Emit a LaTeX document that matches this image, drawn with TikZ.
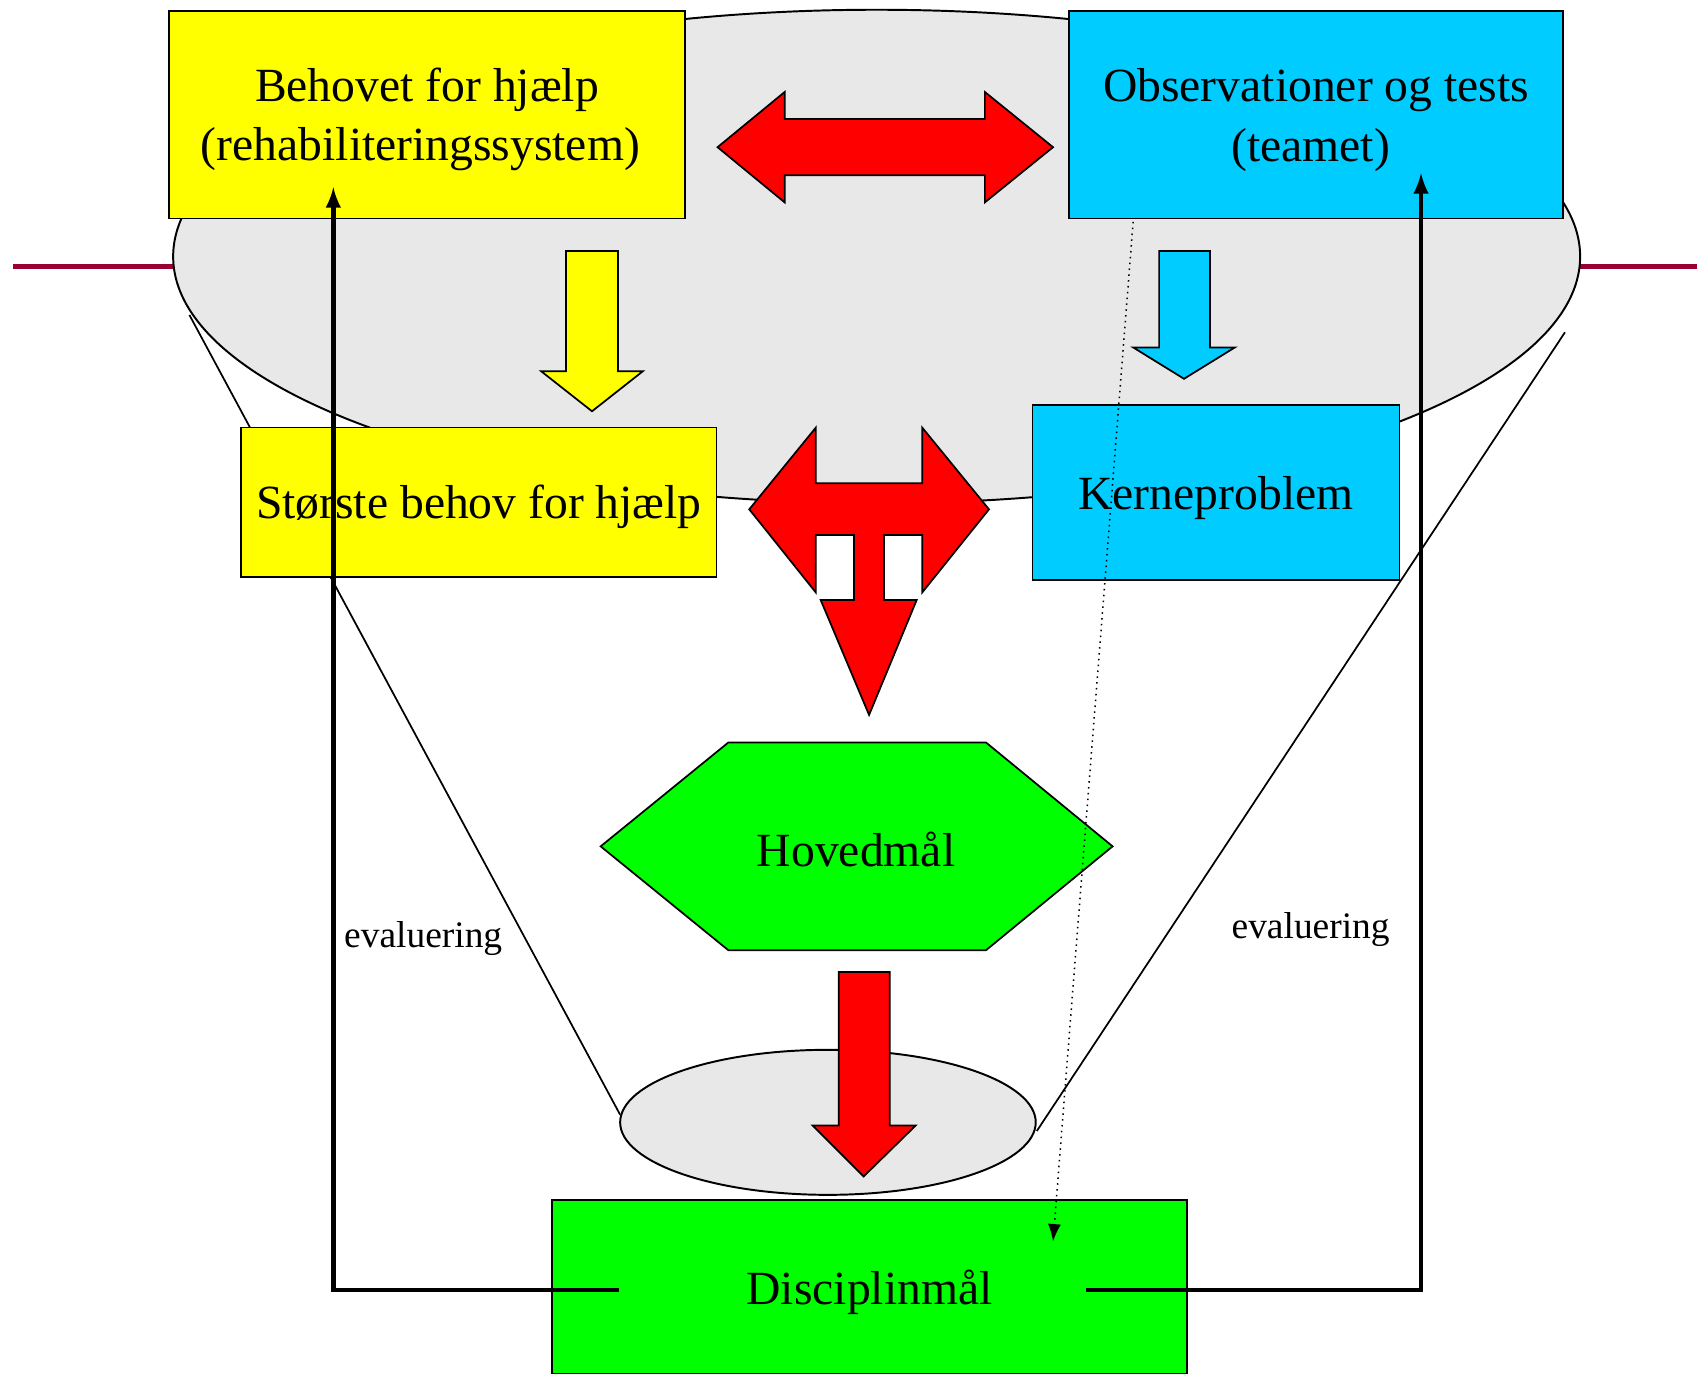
\documentclass[tikz,border=0pt]{standalone}
\usepackage{fontspec}
\setmainfont{Liberation Serif}
\usetikzlibrary{arrows.meta}
\definecolor{gul}{RGB}{255,255,0}
\definecolor{blaa}{RGB}{0,204,255}
\definecolor{groen}{RGB}{0,255,0}
\definecolor{roed}{RGB}{255,0,0}
\definecolor{graa}{RGB}{232,232,232}
\definecolor{vinroed}{RGB}{153,0,51}
\newcommand\loeft[1]{\rule{0pt}{#1}}

\begin{document}
\begin{tikzpicture}[
x=0.5pt, y=-0.5pt,
box/.style={
  draw,
  line width=0.8pt,
  inner sep=0pt,
  align=center,
  font=\fontsize{22}{27.5}\selectfont
  },
blokpil/.style={
  draw,
  line width=0.8pt,
  line join=miter
  },
skal/.style={
  draw,
  line width=0.9pt,
  fill=graa
  },
tragt/.style={
  line width=0.8pt
  },
tilbage/.style={
  line width=2.2pt
  },
prik/.style={
  line width=0.7pt,
  dotted
  },
eval/.style={
  font=\fontsize{17.3}{20}\selectfont
  },
>=latex
]
\useasboundingbox (0,0) rectangle (1568,1270);

% baggrund
\draw[vinroed, line width=2.2pt] (12,246) -- (1568,246);
\draw[skal] (810,237) ellipse [x radius=325pt, y radius=114pt];
\draw[tragt] (175,291) -- (573,1030);
\draw[tragt] (1446,307) -- (958,1045);
\draw[skal] (765,1037) ellipse [x radius=96pt, y radius=33.5pt];

% kasser
\node[box, fill=gul, minimum width=238.5pt, minimum height=96pt] (behov) at (394.5,106)
  {\loeft{20pt}Behovet for hjælp\\\hspace*{-6pt}(rehabiliteringssystem)};
\node[box, fill=blaa, minimum width=228pt, minimum height=96pt] (obs) at (1216,106)
  {\loeft{20pt}Observationer og tests\\\hspace*{-5pt}(teamet)};
\node[box, fill=gul, minimum width=219.5pt, minimum height=69pt] (stoerst) at (442.5,464)
  {\loeft{20pt}Største behov for hjælp};
\node[box, fill=blaa, minimum width=169.5pt, minimum height=81pt] (kerne) at (1123.5,455)
  {\loeft{20.5pt}Kerneproblem};

% blokpile
\filldraw[blokpil, fill=roed] (663,136) -- (725,85) -- (725,110) -- (910,110) -- (910,85)
  -- (973,136) -- (910,187) -- (910,162) -- (725,162) -- (725,187) -- cycle;
\filldraw[blokpil, fill=gul] (523,232) -- (571,232) -- (571,343) -- (594,343)
  -- (547,380) -- (500,343) -- (523,343) -- cycle;
\filldraw[blokpil, fill=blaa] (1071,232) -- (1118,232) -- (1118,321) -- (1141,321)
  -- (1094,350) -- (1047,321) -- (1071,321) -- cycle;
\filldraw[blokpil, fill=roed] (692.3,470.6) -- (753.7,395.2) -- (753.7,446.6) -- (852.2,446.6)
  -- (852.2,395.2) -- (913.8,470.6) -- (852.2,547.3) -- (852.2,494.3) -- (816.8,494.3)
  -- (816.8,554.4) -- (847,554.4) -- (803,660.6) -- (758.3,554.4) -- (789.1,554.4)
  -- (789.1,494.3) -- (753.7,494.3) -- (753.7,547.3) -- cycle;

% maal
\filldraw[blokpil, fill=groen] (555,782) -- (673,686) -- (911,686) -- (1028,782)
  -- (911,878) -- (673,878) -- cycle;
\node[box, draw=none] (hoved) at (791,785) {Hovedmål};
\filldraw[blokpil, fill=roed] (775,898) -- (822,898) -- (822,1040) -- (846,1040)
  -- (798,1087) -- (751,1040) -- (775,1040) -- cycle;
\node[box, fill=groen, minimum width=293.5pt, minimum height=80pt] (disc) at (803.5,1189)
  {\loeft{21pt}Disciplinmål};

% evaluering
\coordinate (fbV) at (308,173);
\coordinate (fbH) at (1313,160);
\draw[tilbage][->] ([xshift=31.5pt, yshift=-1.5pt]disc.west) -| (fbV);
\draw[tilbage][->] ([xshift=-47pt, yshift=-1.5pt]disc.east) -| (fbH);
\draw[prik][-{Latex[length=8pt, width=6pt]}] (1047,205) -- (973,1147);

\node[eval] (evalV) at (391,864) {\loeft{15pt}evaluering};
\node[eval] (evalH) at (1211,856) {\loeft{15pt}evaluering};

\end{tikzpicture}
\end{document}
